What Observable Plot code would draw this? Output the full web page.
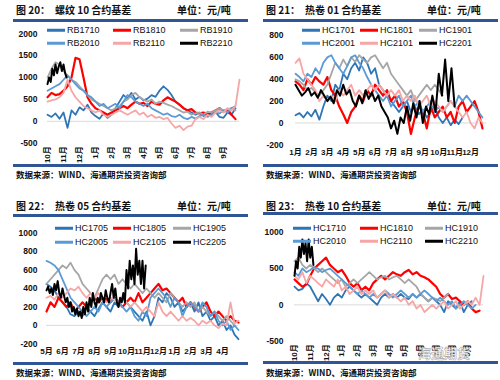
<!DOCTYPE html>
<html><head><meta charset="utf-8">
<script src="https://cdn.jsdelivr.net/npm/d3@7"></script>
<script src="https://cdn.jsdelivr.net/npm/@observablehq/plot@0.6"></script>
<style>
body{margin:0;background:#fff;}
#root{position:relative;width:500px;height:380px;overflow:hidden;background:#fff;font-family:"Noto Sans CJK SC",sans-serif;}
.panel{position:absolute;width:250px;height:190px;}
.t{position:absolute;white-space:nowrap;font-weight:700;font-size:10px;line-height:12px;color:#111;transform:translateY(-50%);z-index:3;}
.rule{position:absolute;left:13px;width:235px;height:2.5px;background:#2f5597;}
.src{position:absolute;left:16px;font-size:8.5px;line-height:10px;font-weight:700;white-space:nowrap;transform:translateY(-50%);color:#111;}
.lg{position:absolute;font:9px "Liberation Sans",Arial,sans-serif;line-height:10px;color:#111;white-space:nowrap;transform:translateY(-50%);z-index:3;}
.lgl{position:absolute;height:2.5px;width:18px;transform:translateY(-50%);z-index:3;}
.panel svg{position:absolute;left:0;z-index:2;}
.wm{position:absolute;left:418px;top:343px;font-size:13px;font-weight:700;color:rgba(255,255,255,0.9);-webkit-text-stroke:0.6px rgba(150,150,150,0.8);z-index:5;white-space:nowrap;}
</style></head><body><div id="root"></div>
<script>
// ---------- data (x in months from series start) ----------
const rbNames = ["RB1710","RB1810","RB1910","RB2010","RB2110","RB2210"];
const RB1710 = [150,100,180,60,200,-150,250,150,320,250,380,200,120,60,180,80,150,300,450,600,520,650,500,560,480,520,600,560,700,800,720,600,450,380,300,250,200,150,200,120,180,150,220,100,80,200,150,300];
const RB1810 = [550,650,600,620,700,800,1000,1450,1420,1000,550,400,300,250,200,150,200,250,300,350,300,380,450,400,420,350,450,400,380,480,550,500,450,380,300,250,280,200,180,200,150,200,250,300,220,280,150,50];
const RB1910 = [1000,1200,1350,1300,1150,1050,950,900,800,700,600,500,450,400,350,300,250,300,350,450,500,600,650,550,500,450,500,400,450,420,380,350,300,250,200,220,150,180,200,150,220,200,250,300,250,280,300,250];
const RB2010 = [700,750,800,850,950,1050,950,850,750,700,600,550,450,350,400,300,350,400,300,450,600,550,450,400,350,400,300,250,200,150,180,120,100,150,80,50,100,60,120,150,100,150,200,180,250,200,300,350];
const RB2110 = [450,480,500,550,650,950,700,550,450,350,300,250,200,250,150,100,150,200,250,200,150,200,250,150,200,100,150,80,100,50,80,-50,-150,-100,-200,-120,-100,50,100,50,150,100,200,250,200,300,250,350,950];
const RB2210 = [850,1000,900,1200,1050,1300,1100,1250,1350,1150,1300,1100,1000];
const rbSteps = [0.25,0.25,0.25,0.25,0.25,0.1];
const rbMonths = ["10月","11月","12月","1月","2月","3月","4月","5月","6月","7月","8月","9月"];
const rbYTicks = [-500,0,500,1000,1500,2000];

const hc01Names = ["HC1701","HC1801","HC1901","HC2001","HC2101","HC2201"];
const HC1701 = [70,90,50,100,60,120,30,150,250,200,350,300,450,400,500,550,480,600,550,450,500,350,300,250,200,150,100,150,200,100,150,80,120,50,100,150,50,0,50,-20,30,-10,50];
const HC1801 = [380,350,300,400,350,420,380,350,420,300,250,150,80,0,100,150,250,200,300,250,350,300,250,300,200,250,150,200,100,-100,50,150,100,-50,150,50,100,150,50,100,0,150,200,100,150,200,100,-50];
const HC1901 = [400,380,350,300,320,280,250,300,350,450,550,500,580,520,600,560,620,580,550,600,620,560,500,550,450,400,350,300,250,300,200,250,300,350,300,350,300,250];
const HC2001 = [450,420,380,450,420,500,450,550,600,620,550,500,450,520,600,620,550,500,420,350,300,250,200,250,150,200,250,150,200,250,150,200,100,150,200,100,150,100,150,200,150,250,200,250,200,150,100,50];
const HC2101 = [550,590,450,400,350,300,200,250,200,250,200,300,250,300,350,250,300,250,300,350,300,350,300,250,300,250,300,200,250,200,250,150,200,250,150,200,150,100,150,200,150,100,50,100,0,-50,50,0];
const HC2201 = [350,300,250,280,320,250,280,230,300,250,200,240,180,300,250,350,260,300,200,150,250,180,300,220,280,200,250,150,100,50,-50,20,-100,50,0,150,20,180,50,200,0,150,80,250,100,450,250,580,200,500,150];
const hc01Steps = [0.25,0.25,0.25,0.25,0.25,0.2];
const hc01Months = ["1月","2月","3月","4月","5月","6月","7月","8月","9月","10月","11月","12月"];
const hc01YTicks = [-200,0,200,400,600,800];

const hc05Names = ["HC1705","HC1805","HC1905","HC2005","HC2105","HC2205"];
const HC1705 = [450,420,380,300,250,200,120,100,150,100,200,150,100,180,250,200,150,250,200,300,250,200,150,100,50,150,0,100,300,250,350,300,200,250,150,200,250,150,250,100,150,50,100,0,50,-50,0,-100,-150];
const HC1805 = [150,250,200,300,250,200,250,150,200,250,200,250,300,250,300,280,250,300,250,200,250,300,250,350,250,300,350,400,450,380,400,350,300,250,300,200,250,200,150,200,250,150,100,150,100,50,100,50,30];
const HC1905 = [450,500,550,600,650,620,680,600,550,450,400,350,300,400,500,550,500,550,450,500,450,400,450,400,350,400,350,300,350,300,250,350,300,250,200,250,200,250,150,200,150,100,150,100,50,100,50,0];
const HC2005 = [700,680,650,600,500,400,300,250,200,150,100,150,200,150,250,200,250,300,250,200,150,200,100,50,150,100,300,350,400,350,300,200,300,250,100,200,250,200,150,250,200,100,150,50,0,50,-50,0,-50];
const HC2105 = [300,320,280,350,300,350,400,380,420,350,300,350,300,350,300,250,300,280,250,300,250,200,250,200,150,200,150,100,250,150,100,150,100,50,100,50,80,50,0,50,20,50,0,-30,20,0,250,20,50];
const HC2205 = [380,420,350,400,330,450,380,480,350,300,400,320,250,300,200,250,150,200,120,180,100,150,80,200,120,250,150,300,200,350,250,200,300,250,350,300,250,380,300,250,350,450,300,400,250,200,300,250,350,250,600,400,700,500,650,450,830,550,700,450,700,400,650];
const hc05Steps = [0.25,0.25,0.25,0.25,0.25,0.1];
const hc05Months = ["5月","6月","7月","8月","9月","10月","11月","12月","1月","2月","3月","4月"];
const hc05YTicks = [-200,0,200,400,600,800,1000];

const hc10Names = ["HC1710","HC1810","HC1910","HC2010","HC2110","HC2210"];
const HC1710 = [250,200,220,300,250,150,50,150,80,0,100,150,100,200,250,200,150,100,150,100,50,0,100,150,100,150,100,150,100,80,150,100,150,100,50,100,50,0,-100,50,0,-50,50,-100,0,50];
const HC1810 = [350,300,250,280,400,500,550,600,650,550,500,450,480,400,300,250,300,200,250,200,300,350,400,350,400,450,420,400,450,480,420,450,400,380,350,300,250,150,100,150,80,100,50,0,50,-50,-100,-80];
const HC1910 = [600,650,550,500,550,500,450,500,450,400,350,300,350,250,300,350,300,350,400,450,400,350,380,400,350,380,400,350,300,350,300,250,150,100,50,100,80,50,100,150];
const HC2010 = [450,400,500,450,480,520,500,450,480,500,450,400,350,300,250,200,150,200,150,100,150,100,150,200,150,100,150,200,150,100,150,100,150,200,150,100,50,100,50,0,50,-50,0,50,0,-50,0];
const HC2110 = [400,350,450,300,400,350,300,250,350,300,250,350,200,250,150,200,250,150,200,150,200,100,150,200,100,150,100,50,100,0,50,-50,0,-100,-50,0,-50,0,50,-50,0,50,-50,0,50,0,100,0,400];
const HC2210 = [400,600,500,800,650,900,700,850,600,900,650,800,550];
const hc10Steps = [0.25,0.25,0.25,0.25,0.25,0.1];
const hc10Months = ["10月","11月","12月","1月","2月","3月","4月","5月","6月","7月","8月","9月"];
const hc10YTicks = [-500,0,500,1000];

// ---------- styles ----------
const palette = ["#2e75b6","#ff0000","#a6a6a6","#5b9bd5","#f7a6a6","#000000"];
const widths = [1.8,2.2,1.8,1.8,1.8,2];

const root = document.getElementById("root");

function addEl(parent, cls, text, x, y){
  const e = document.createElement("div");
  e.className = cls; if (text != null) e.textContent = text;
  e.style.left = x + "px"; e.style.top = y + "px";
  parent.appendChild(e); return e;
}

function panel(o){
  const div = document.createElement("div");
  div.className = "panel"; div.style.left = o.left + "px"; div.style.top = o.top + "px";
  root.appendChild(div);
  addEl(div, "t", o.fig, 16, o.titleY);
  addEl(div, "t", o.title, 55, o.titleY);
  addEl(div, "t", "单位：元/吨", 177, o.titleY);
  addEl(div, "rule", null, 13, o.ruleTop);
  addEl(div, "rule", null, 13, o.ruleBottom);
  addEl(div, "src", "数据来源：WIND、海通期货投资咨询部", 16, o.srcY);

  const marks = [Plot.ruleY([0], {stroke:"#d9d9d9", strokeWidth:1})];
  o.names.forEach((n,k) => {
    const rows = o.values[k].map((v,i) => ({x: i*o.steps[k], y: v}));
    marks.push(Plot.line(rows, {x:"x", y:"y", stroke: palette[k], strokeWidth: widths[k]}));
  });
  marks.push(Plot.axisX({ticks: o.months.map((_,i)=>i), tickFormat: i => o.months[i], tickSize:0,
    tickPadding: o.rot ? 3 : 5, tickRotate: o.rot ? -90 : 0, label:null, fontSize: 8, fontWeight:"bold"}));
  marks.push(Plot.axisY({ticks: o.yTicks, tickFormat: d => String(d), tickSize:0, tickPadding: o.ypad, label:null, fontSize: 8.5, fontWeight:"bold"}));
  const svg = Plot.plot({
    width: 250, height: o.h,
    marginLeft: o.ml, marginRight: o.mr, marginTop: o.mt, marginBottom: o.mb,
    x: {domain:[0,12]}, y: {domain:[o.yTicks[0], o.yTicks[o.yTicks.length-1]]},
    style: {fontFamily:'"Liberation Sans","Noto Sans CJK SC",sans-serif', color:"#111", background:"transparent", overflow:"visible"},
    marks
  });
  svg.style.top = o.svgTop + "px";
  div.appendChild(svg);

  o.names.forEach((n,k) => {
    const col = k % 3, row = Math.floor(k / 3);
    const lx = o.lgX[col], ly = o.lgY[row];
    const l = addEl(div, "lgl", null, lx, ly); l.style.background = palette[k];
    addEl(div, "lg", n, lx + 20, ly);
  });
}

panel({left:0, top:0, fig:"图 20：", title:"螺纹 10 合约基差", titleY:10, ruleTop:19, ruleBottom:164, srcY:174,
  svgTop:22, h:142, ml:47, mr:11, mt:11.3, mb:21.3, ypad:10, rot:true,
  names: rbNames, values:[RB1710,RB1810,RB1910,RB2010,RB2110,RB2210], steps: rbSteps, months: rbMonths, yTicks: rbYTicks,
  lgX:[47,113,180], lgY:[30,43]});

panel({left:250, top:0, fig:"图 21：", title:"热卷 01 合约基差", titleY:10, ruleTop:19, ruleBottom:164, srcY:174,
  svgTop:22, h:142, ml:45, mr:14, mt:13, mb:19.7, ypad:12, rot:false,
  names: hc01Names, values:[HC1701,HC1801,HC1901,HC2001,HC2101,HC2201], steps: hc01Steps, months: hc01Months, yTicks: hc01YTicks,
  lgX:[52,110,169], lgY:[30,43]});

panel({left:0, top:190, fig:"图 22：", title:"热卷 05 合约基差", titleY:16, ruleTop:24, ruleBottom:172, srcY:182,
  svgTop:27, h:145, ml:46, mr:12, mt:15.7, mb:18.7, ypad:9, rot:false,
  names: hc05Names, values:[HC1705,HC1805,HC1905,HC2005,HC2105,HC2205], steps: hc05Steps, months: hc05Months, yTicks: hc05YTicks,
  lgX:[55,113,173], lgY:[38,52]});

panel({left:250, top:190, fig:"图 23：", title:"热卷 10 合约基差", titleY:16, ruleTop:22, ruleBottom:171, srcY:182,
  svgTop:25, h:146, ml:44, mr:17, mt:16.7, mb:20.3, ypad:11, rot:true,
  names: hc10Names, values:[HC1710,HC1810,HC1910,HC2010,HC2110,HC2210], steps: hc10Steps, months: hc10Months, yTicks: hc10YTicks,
  lgX:[43,110,175], lgY:[38,51]});

addEl(root, "wm", "海通期货", 418, 343);
</script></body></html>
